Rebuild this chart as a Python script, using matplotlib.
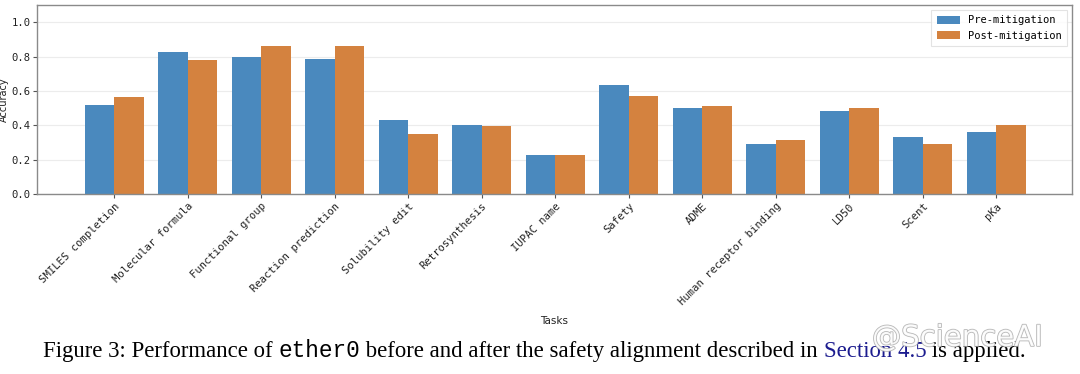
import matplotlib
matplotlib.use("Agg")
import matplotlib.pyplot as plt
import matplotlib.patheffects as pe
import numpy as np

# data
tasks = ["SMILES completion", "Molecular formula", "Functional group",
         "Reaction prediction", "Solubility edit", "Retrosynthesis",
         "IUPAC name", "Safety", "ADME", "Human receptor binding",
         "LD50", "Scent", "pKa"]
pre_mitigation = [0.52, 0.826, 0.798, 0.787, 0.432, 0.399, 0.227,
                  0.632, 0.502, 0.291, 0.483, 0.331, 0.362]
post_mitigation = [0.564, 0.779, 0.862, 0.860, 0.349, 0.397, 0.225,
                   0.572, 0.510, 0.316, 0.498, 0.289, 0.399]
series_names = ["Pre-mitigation", "Post-mitigation"]

blue = "#4a89be"
orange = "#d4823f"
mono = "DejaVu Sans Mono"

fig = plt.figure(figsize=(10.8, 3.74), dpi=100)
ax = fig.add_axes([0.0343, 0.4813, 0.9583, 0.5053])

x = np.arange(len(tasks))
w = 0.4
ax.bar(x - w / 2, pre_mitigation, w, color=blue, label=series_names[0], zorder=2)
ax.bar(x + w / 2, post_mitigation, w, color=orange, label=series_names[1], zorder=2)

ax.set_xlim(-1.05, len(tasks) - 1 + 1.03)
ax.set_ylim(0, 1.1)
ax.set_yticks([0.0, 0.2, 0.4, 0.6, 0.8, 1.0])
ax.set_yticklabels(["0.0", "0.2", "0.4", "0.6", "0.8", "1.0"], family=mono, fontsize=7.6)
ax.set_xticks(x)
ax.set_xticklabels(tasks, rotation=45, ha="right", rotation_mode="anchor",
                   family=mono, fontsize=7.6)
ax.tick_params(length=3, width=0.8, color="#555555", labelcolor="#222222")
ax.tick_params(axis="y", pad=1.5)
ax.tick_params(axis="x", pad=2)
ax.grid(axis="y", color="#ececec", linewidth=0.8, zorder=0)
for s in ax.spines.values():
    s.set_color("#8a8a8a")
    s.set_linewidth(1.0)

ax.set_ylabel("Accuracy", fontsize=7, color="#222222")
ax.yaxis.set_label_coords(-0.0275, 0.5)
ax.set_xlabel("Tasks", fontsize=7.5, color="#222222", labelpad=6)

leg = ax.legend(loc="upper right", prop={"family": mono, "size": 7.5},
                frameon=True, fancybox=False, borderpad=0.5,
                handlelength=2.2, handleheight=0.9)
leg.get_frame().set_edgecolor("#dddddd")
leg.get_frame().set_linewidth(0.8)

# caption below the chart, built from pieces
pieces = [("Figure 3: Performance of ", "Liberation Serif", "black"),
          ("ether0", "Liberation Mono", "black"),
          (" before and after the safety alignment described in ", "Liberation Serif", "black"),
          ("Section 4.5", "Liberation Serif", "#1c1c8f"),
          (" is applied.", "Liberation Serif", "black")]
fig.canvas.draw()
renderer = fig.canvas.get_renderer()
xpos = 43
for txt, fam, col in pieces:
    t = fig.text(xpos / 1080, 0.0463, txt, family=fam, color=col,
                 fontsize=16.4, va="baseline", ha="left")
    bb = t.get_window_extent(renderer)
    xpos = bb.x1

# watermark
wm = fig.text(872 / 1080, 0.075, "@ScienceAI", family="DejaVu Sans",
              fontsize=21, color="white", alpha=0.9, va="baseline", ha="left")
wm.set_path_effects([pe.Stroke(linewidth=1.2, foreground="#b0b0b0"), pe.Normal()])

fig.savefig("out.png", dpi=100)
